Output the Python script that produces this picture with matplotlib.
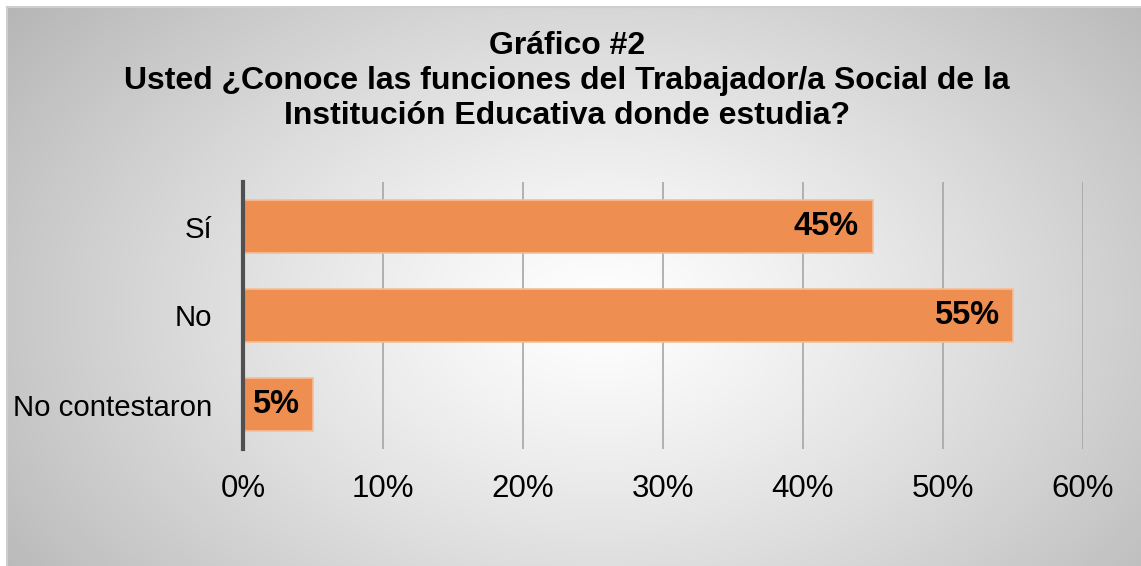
import numpy as np
import matplotlib
matplotlib.use("Agg")
import matplotlib.pyplot as plt

categories = ["Sí", "No", "No contestaron"]
values = [45, 55, 5]
xticks = [0, 10, 20, 30, 40, 50, 60]
xtick_labels = ["0%", "10%", "20%", "30%", "40%", "50%", "60%"]
title = "Gráfico #2\nUsted ¿Conoce las funciones del Trabajador/a Social de la\nInstitución Educativa donde estudia?"

W, H, DPI = 1141, 566, 100
plt.rcParams['font.family'] = ['Liberation Sans', 'DejaVu Sans']
fig = plt.figure(figsize=(W / DPI, H / DPI), dpi=DPI)
fig.patch.set_facecolor('white')

# background radial gradient (chart area starts at x=7, y=7, cropped at right/bottom)
bg = fig.add_axes([0, 0, 1, 1], zorder=0)
x0, y0 = 7, 7
yy, xx = np.mgrid[y0:H, x0:W]
cx, cy = 600, 310
r = np.sqrt(((xx - cx) / 640.0) ** 2 + ((yy - cy) / 430.0) ** 2)
v = 1.0 - 0.24 * np.clip(r, 0, 1.2) ** 1.2
img = np.dstack([v, v, v])
bg.imshow(img, extent=[x0, W, H, y0], aspect='auto', interpolation='bilinear')
bg.plot([x0, x0], [H, y0], color='#CFCFCF', lw=1.5)
bg.plot([x0, W], [y0, y0], color='#CFCFCF', lw=1.5)
bg.set_xlim(0, W)
bg.set_ylim(H, 0)
bg.axis('off')

# main axes: x 243..1083, y 182..449
ax = fig.add_axes([243 / W, 1 - 449 / H, (1083 - 243) / W, (449 - 182) / H], zorder=1)
ax.patch.set_alpha(0)
y = np.arange(len(categories))
ax.barh(y, values, height=0.6, color='#EE8E50', edgecolor='#F6BE97', linewidth=1.2, zorder=3)
ax.set_ylim(len(categories) - 0.5, -0.5)
ax.set_xlim(0, 60)
ax.set_xticks(xticks)
ax.set_xticklabels(xtick_labels, fontsize=22.5)
ax.set_yticks(y)
ax.set_yticklabels(categories, fontsize=21.2)
ax.tick_params(axis='both', length=0, colors='black')
ax.tick_params(axis='x', pad=18)
ax.tick_params(axis='y', pad=22)
ax.grid(axis='x', color='#A6A6A6', lw=1.2, zorder=1)
for s in ['top', 'right', 'bottom']:
    ax.spines[s].set_visible(False)
ax.spines['left'].set_color('#505050')
ax.spines['left'].set_linewidth(3)
ax.spines['left'].set_zorder(4)

for yi, val in zip(y, values):
    ax.annotate(f"{val}%", xy=(val, yi), xytext=(-10, 0), textcoords='offset points',
                ha='right', va='center', fontsize=23.5, fontweight='bold', zorder=5)

fig.text(567 / W, 1 - 81 / H, title, ha='center', va='center', fontsize=23,
         fontweight='bold', linespacing=1.2)

fig.savefig('out.png', dpi=DPI)
